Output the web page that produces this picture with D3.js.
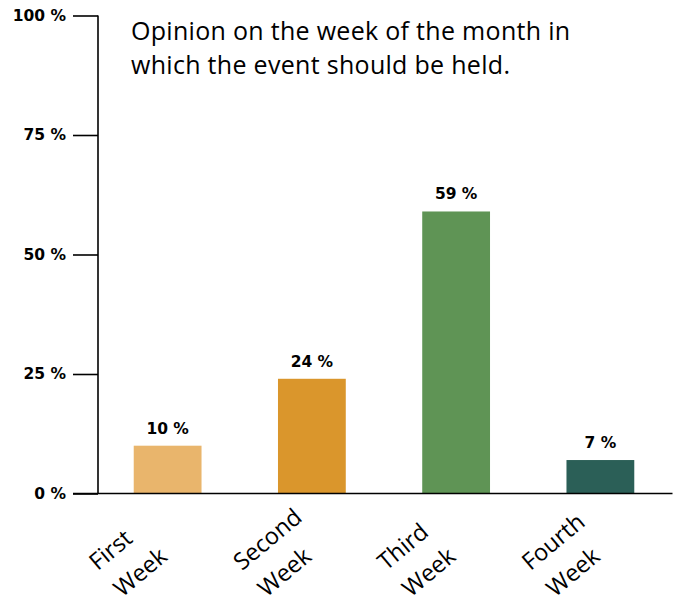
<!DOCTYPE html>
<html>
<head>
<meta charset="utf-8">
<script src="https://cdn.jsdelivr.net/npm/d3@7/dist/d3.min.js"></script>
<style>
  html, body { margin: 0; padding: 0; background: #fff; }
  svg { display: block; }
  text { font-family: "Open Sans", "Noto Sans", sans-serif; fill: #000; }
  .num { font-family: "DejaVu Sans", "Open Sans", sans-serif; font-weight: bold; font-size: 15.5px; }
</style>
</head>
<body>
<svg id="chart" width="677" height="597"></svg>
<script>
// Survey results: preferred week of the month for the event
const categories = [["First", "Week"], ["Second", "Week"], ["Third", "Week"], ["Fourth", "Week"]];
const values = [10, 24, 59, 7];
const colors = ["#E9B56C", "#DA962C", "#5F9455", "#2B5F57"];
const yTicks = [0, 25, 50, 75, 100];
const titleLines = ["Opinion on the week of the month in", "which the event should be held."];

const svg = d3.select("#chart");

const y = d3.scaleLinear().domain([0, 100]).range([493.5, 15.5]);
const x = d3.scaleBand()
  .domain(d3.range(values.length))
  .range([95.5, 672.5])
  .paddingInner(0.53)
  .paddingOuter(0.265);

const axisX = 98;

// Bars
svg.append("g").selectAll("rect")
  .data(values)
  .join("rect")
  .attr("x", (d, i) => x(i))
  .attr("width", x.bandwidth())
  .attr("y", d => y(d))
  .attr("height", d => y(0) - y(d))
  .attr("fill", (d, i) => colors[i]);

// Value labels above bars
svg.append("g").selectAll("text")
  .data(values)
  .join("text")
  .attr("class", "num")
  .attr("x", (d, i) => x(i) + x.bandwidth() / 2)
  .attr("y", d => y(d) - 12)
  .attr("text-anchor", "middle")
  .text(d => d + " %");

// Y axis with ticks drawn to the left
const yAxis = d3.axisLeft(y)
  .tickValues(yTicks)
  .tickSize(25)
  .tickPadding(7)
  .tickFormat(d => d + " %");

const gy = svg.append("g")
  .attr("transform", `translate(${axisX},0)`)
  .call(yAxis);
gy.attr("font-family", null).attr("font-size", null);
gy.select(".domain").remove();
gy.selectAll(".tick line").attr("stroke", "#000").attr("stroke-width", 1.6);
gy.selectAll(".tick text")
  .attr("class", "num")
  .attr("fill", "#000");

// Vertical axis line
svg.append("line")
  .attr("x1", axisX).attr("x2", axisX)
  .attr("y1", y(100)).attr("y2", y(0))
  .attr("stroke", "#000").attr("stroke-width", 1.6);

// Horizontal baseline
svg.append("line")
  .attr("x1", 73).attr("x2", x.range()[1])
  .attr("y1", y(0)).attr("y2", y(0))
  .attr("stroke", "#000").attr("stroke-width", 1.6);

// Rotated category labels
const lab = svg.append("g").selectAll("g")
  .data(categories)
  .join("g")
  .attr("transform", (d, i) => `translate(${x(i) + x.bandwidth() / 2 - 9},${y(0) - 2}) rotate(-40)`);

lab.append("text")
  .attr("x", -98).attr("y", 22)
  .style("font-size", "23.5px")
  .text(d => d[0]);
lab.append("text")
  .attr("x", -96).attr("y", 58)
  .style("font-size", "23.5px")
  .text(d => d[1]);

// Title
svg.append("text")
  .attr("x", 131)
  .attr("y", 40)
  .style("font-size", "25px")
  .style("letter-spacing", "0.3px")
  .selectAll("tspan")
  .data(titleLines)
  .join("tspan")
  .attr("x", 131)
  .attr("dy", (d, i) => i === 0 ? 0 : 34)
  .text(d => d);
</script>
</body>
</html>
